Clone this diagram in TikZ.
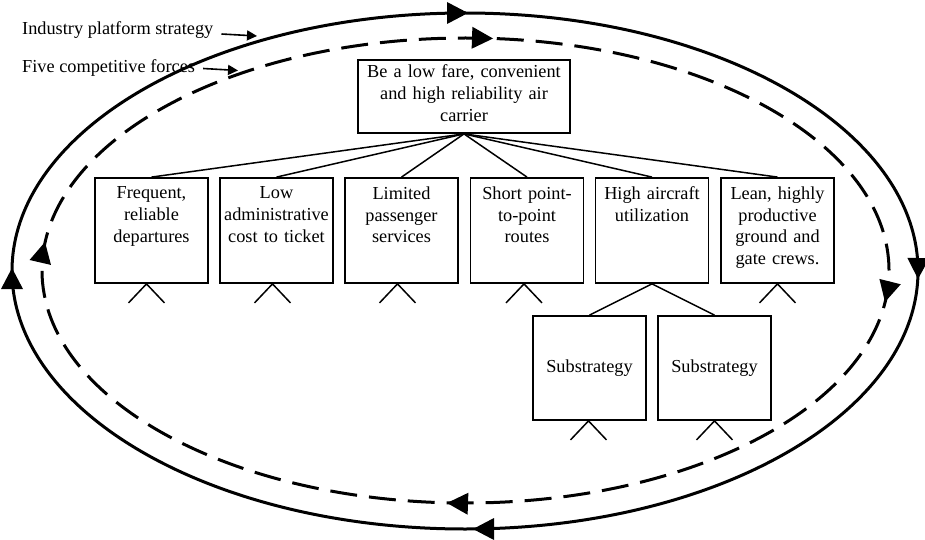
\documentclass[tikz,border=0pt]{standalone}
\usepackage{fontspec}
\setmainfont{Liberation Serif}
\usetikzlibrary{arrows.meta}
\begin{document}
\begin{tikzpicture}[x=1pt,y=-1pt,
  every node/.style={font=\fontsize{18.3}{21.7}\selectfont},
  frame/.style={draw, line width=1.8pt, inner sep=0pt},
  box/.style={frame, minimum width=113pt, minimum height=105pt},
  subbox/.style={frame, minimum width=113pt, minimum height=104pt},
  boxtext/.style={anchor=north, text width=111pt, align=center, inner sep=0pt, yshift=-9.5pt},
  link/.style={line width=1.5pt},
  orbit/.style={line width=3pt},
  pointer/.style={line width=1.6pt, -{Triangle[length=10pt,width=10pt]}},
  orbithead/.pic={\fill (0,0) -- (-21,-11) -- (-21,11) -- cycle;},
]
\useasboundingbox (0,0) rectangle (925,540);

% strategy loops
\draw[orbit] (465,271) ellipse [x radius=453pt, y radius=258pt];
\draw[orbit, dash pattern=on 27pt off 12pt] (465.5,270.5) ellipse [x radius=423.5pt, y radius=232.5pt];

% clockwise direction marks, solid loop
\pic[rotate=0]   at (468,13)  {orbithead};
\pic[rotate=-91] at (918,279) {orbithead};
\pic[rotate=180] at (473,529) {orbithead};
\pic[rotate=90]  at (12,268)  {orbithead};
% clockwise direction marks, dashed loop
\pic[rotate=-2]   at (493,38.5) {orbithead};
\pic[rotate=-104] at (885,302)  {orbithead};
\pic[rotate=178]  at (447,503)  {orbithead};
\pic[rotate=77]   at (45,242)   {orbithead};

% loop labels
\node[anchor=base west, inner sep=0pt] (lab1) at (22,35) {Industry platform strategy};
\node[anchor=base west, inner sep=0pt] (lab2) at (22,72.5) {Five competitive forces};
\coordinate (p1) at (257,36);
\coordinate (p2) at (238,70.5);
\draw[pointer] ([xshift=8pt,yshift=1pt]lab1.base east) -- (p1);
\draw[pointer] ([xshift=8pt,yshift=4pt]lab2.base east) -- (p2);

% goal
\node[frame, minimum width=212pt, minimum height=73pt] (goal) at (464,96.5) {};
\node[anchor=north, text width=206pt, align=center, inner sep=0pt, yshift=-5.5pt] (goaltext) at (goal.north)
  {Be a low fare, convenient\\and high reliability air\\carrier};

% activity boxes
\node[box] (b1) at (151.5,230.5) {};
\node[box] (b2) at (276.5,230.5) {};
\node[box] (b3) at (401.5,230.5) {};
\node[box] (b4) at (527,230.5) {};
\node[box] (b5) at (652,230.5) {};
\node[box] (b6) at (777.5,230.5) {};
\node[boxtext] (t1) at (b1.north) {Frequent,\\reliable\\departures};
\node[boxtext] (t2) at (b2.north) {Low\\administrative\\cost to ticket};
\node[boxtext] (t3) at (b3.north) {Limited\\passenger\\services};
\node[boxtext] (t4) at (b4.north) {Short point-\\to-point\\routes};
\node[boxtext] (t5) at (b5.north) {High aircraft\\utilization};
\node[boxtext] (t6) at (b6.north) {Lean, highly\\productive\\ground and\\gate crews.};

% substrategies
\node[subbox] (s1) at (589.5,368) {Substrategy};
\node[subbox] (s2) at (714.5,368) {Substrategy};

% tree links
\foreach \i in {1,...,6} \draw[link] (goal.south) -- (b\i.north);
\draw[link] (b5.south) -- (s1.north);
\draw[link] (b5.south) -- (s2.north);

% open branch marks under the leaves
\foreach \n/\dx in {b1/-5, b2/-4, b3/-4, b4/-3, b6/0, s1/-1, s2/0}
  \draw[link] ([xshift=\dx pt]\n.south) ++(-18,19) -- ++(18,-19) -- ++(18,19);
\end{tikzpicture}
\end{document}
